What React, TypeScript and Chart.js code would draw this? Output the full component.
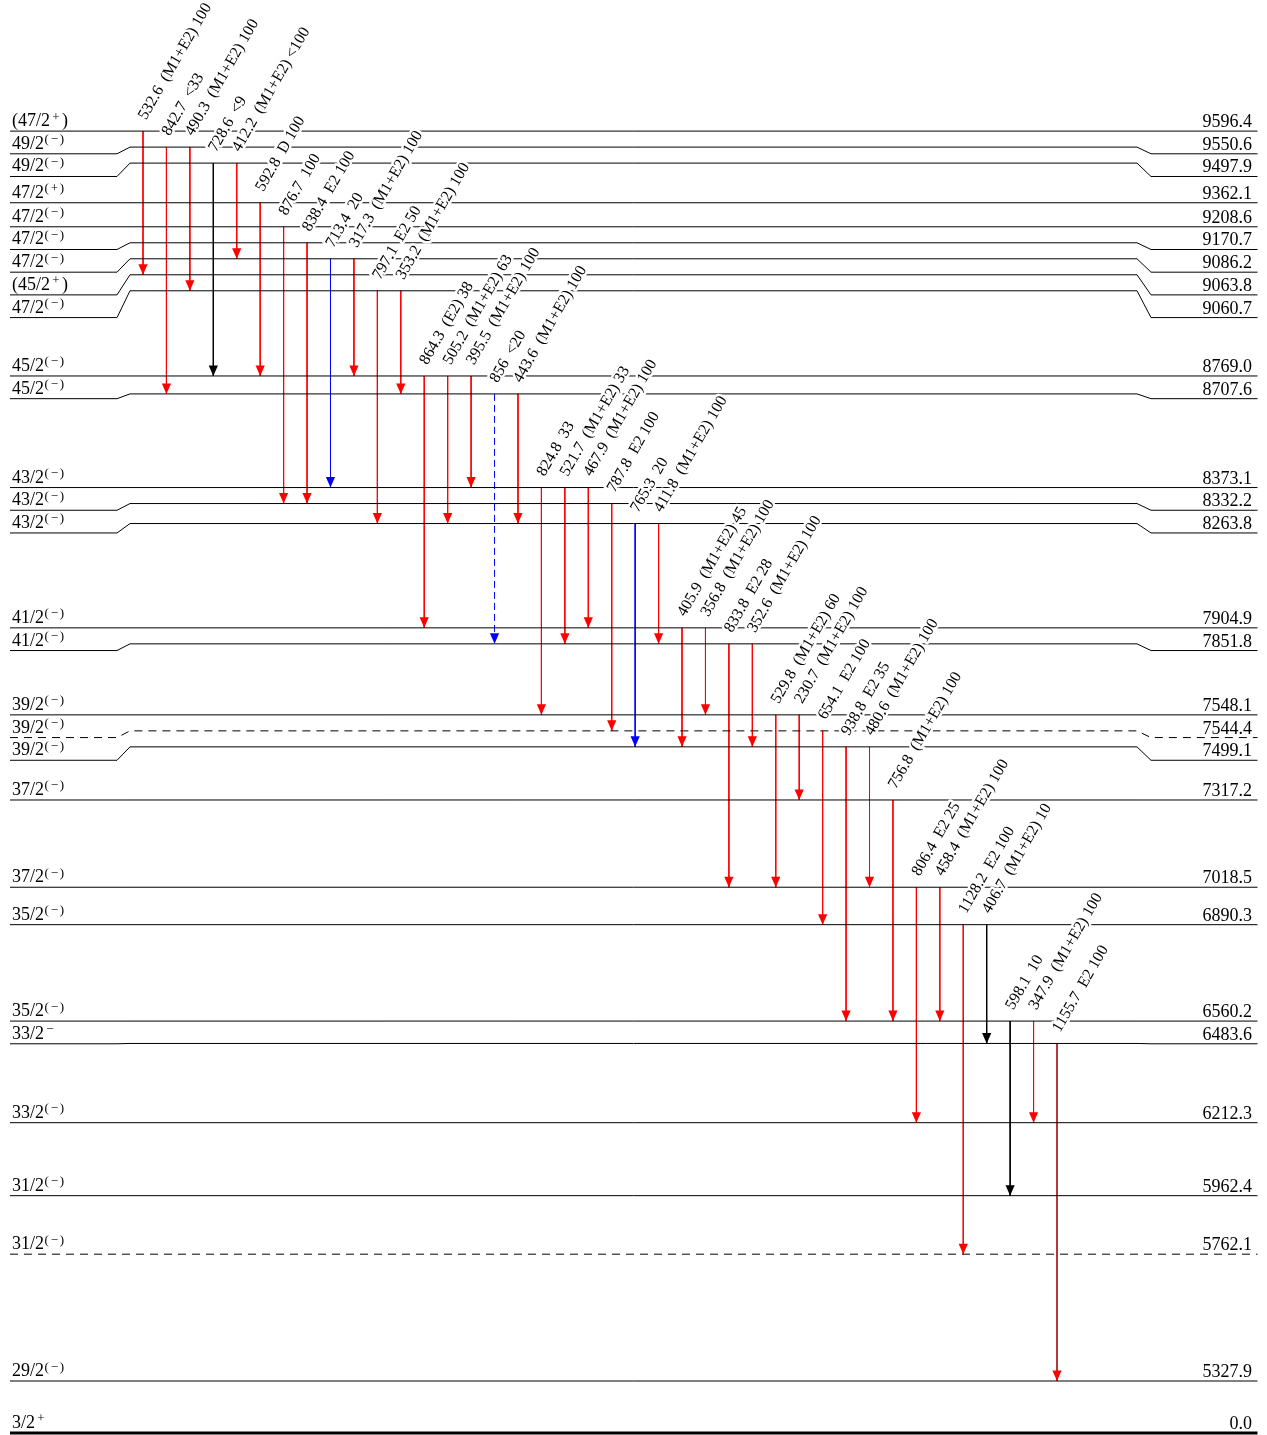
import React, { useEffect, useRef } from "react";
import { Chart, registerables } from "chart.js";

Chart.register(...registerables);

// ---------------- DATA ----------------
// Excited levels (keV), top to bottom
const levelEnergies = [
  9596.4, 9550.6, 9497.9, 9362.1, 9208.6, 9170.7, 9086.2, 9063.8, 9060.7,
  8769.0, 8707.6, 8373.1, 8332.2, 8263.8, 7904.9, 7851.8, 7548.1, 7544.4,
  7499.1, 7317.2, 7018.5, 6890.3, 6560.2, 6483.6, 6212.3, 5962.4, 5762.1,
  5327.9, 0.0,
];
// Spin/parity labels, superscript part in braces
const levelSpins = [
  "(47/2{+})", "49/2{(−)}", "49/2{(−)}", "47/2{(+)}", "47/2{(−)}", "47/2{(−)}",
  "47/2{(−)}", "(45/2{+})", "47/2{(−)}", "45/2{(−)}", "45/2{(−)}", "43/2{(−)}",
  "43/2{(−)}", "43/2{(−)}", "41/2{(−)}", "41/2{(−)}", "39/2{(−)}", "39/2{(−)}",
  "39/2{(−)}", "37/2{(−)}", "37/2{(−)}", "35/2{(−)}", "35/2{(−)}", "33/2{−}",
  "33/2{(−)}", "31/2{(−)}", "31/2{(−)}", "29/2{(−)}", "3/2{+}",
];
const dashedLevels = [7544.4, 5762.1];

// Gamma transitions, left to right
const gammaEnergies = [
  532.6, 842.7, 490.3, 728.6, 412.2, 592.8, 876.7, 838.4, 713.4, 317.3,
  797.1, 353.2, 864.3, 505.2, 395.5, 856, 443.6, 824.8, 521.7, 467.9,
  787.8, 765.3, 411.8, 405.9, 356.8, 833.8, 352.6, 529.8, 230.7, 654.1,
  938.8, 480.6, 756.8, 806.4, 458.4, 1128.2, 406.7, 598.1, 347.9, 1155.7,
];
const gammaFrom = [
  9596.4, 9550.6, 9550.6, 9497.9, 9497.9, 9362.1, 9208.6, 9170.7, 9086.2, 9086.2,
  9060.7, 9060.7, 8769.0, 8769.0, 8769.0, 8707.6, 8707.6, 8373.1, 8373.1, 8373.1,
  8332.2, 8263.8, 8263.8, 7904.9, 7904.9, 7851.8, 7851.8, 7548.1, 7548.1, 7544.4,
  7499.1, 7499.1, 7317.2, 7018.5, 7018.5, 6890.3, 6890.3, 6560.2, 6560.2, 6483.6,
];
const gammaTo = [
  9063.8, 8707.6, 9060.7, 8769.0, 9086.2, 8769.0, 8332.2, 8332.2, 8373.1, 8769.0,
  8263.8, 8707.6, 7904.9, 8263.8, 8373.1, 7851.8, 8263.8, 7548.1, 7851.8, 7904.9,
  7544.4, 7499.1, 7851.8, 7499.1, 7548.1, 7018.5, 7499.1, 7018.5, 7317.2, 6890.3,
  6560.2, 7018.5, 6560.2, 6212.3, 6560.2, 5762.1, 6483.6, 5962.4, 6212.3, 5327.9,
];
const gammaMult = [
  "(M1+E2)", "", "(M1+E2)", "", "(M1+E2)", "D", "", "E2", "", "(M1+E2)",
  "E2", "(M1+E2)", "(E2)", "(M1+E2)", "(M1+E2)", "", "(M1+E2)", "", "(M1+E2)", "(M1+E2)",
  "E2", "", "(M1+E2)", "(M1+E2)", "(M1+E2)", "E2", "(M1+E2)", "(M1+E2)", "(M1+E2)", "E2",
  "E2", "(M1+E2)", "(M1+E2)", "E2", "(M1+E2)", "E2", "(M1+E2)", "", "(M1+E2)", "E2",
];
const gammaIntensity = [
  "100", "<33", "100", "<9", "<100", "100", "100", "100", "20", "100",
  "50", "100", "38", "63", "100", "<20", "100", "33", "33", "100",
  "100", "20", "100", "45", "100", "28", "100", "60", "100", "100",
  "35", "100", "100", "25", "100", "100", "10", "10", "100", "100",
];
const gammaColors = [
  "#ff0000", "#ff0000", "#ff0000", "#000000", "#ff0000", "#ff0000", "#ff0000", "#ff0000", "#0000ff", "#ff0000",
  "#ff0000", "#ff0000", "#ff0000", "#ff0000", "#ff0000", "#0000ff", "#ff0000", "#ff0000", "#ff0000", "#ff0000",
  "#ff0000", "#0000ff", "#ff0000", "#ff0000", "#ff0000", "#ff0000", "#ff0000", "#ff0000", "#ff0000", "#ff0000",
  "#ff0000", "#ff0000", "#ff0000", "#ff0000", "#ff0000", "#ff0000", "#000000", "#000000", "#ff0000", "#b01818",
];
const dashedGammas = [856];

// ---------------- LAYOUT CONSTANTS ----------------
const W = 1267;
const H = 1435;
const PX_PER_KEV = 0.292063;
const MIN_LEVEL_GAP = 16 / PX_PER_KEV; // minimum spacing of level lines
const MIN_LABEL_GAP = 22.7 / PX_PER_KEV; // minimum spacing of level labels
const GROUND_BREAK = 178; // broken axis below lowest excited level
const Y_MAX = 5327.9 + 1381 / PX_PER_KEV;
const Y_MIN = Y_MAX - H / PX_PER_KEV;
const SLOT_PX = 23.436;
const X_MIN = -143 / SLOT_PX;
const X_MAX = X_MIN + W / SLOT_PX;
const toSlot = (px: number) => (px - 143) / SLOT_PX;
const LEVEL_X = [toSlot(10), toSlot(117), toSlot(130), toSlot(1137), toSlot(1151), toSlot(1257.5)];
const ANGLE = (60 * Math.PI) / 180;
const BASE_FONT = '18px "Liberation Serif"';
const SUP_FONT = '13px "Liberation Serif"';
const GAMMA_FONT = '16px "Liberation Serif"';

function layoutLevels() {
  const n = levelEnergies.length;
  const plotE: number[] = new Array(n);
  plotE[n - 2] = levelEnergies[n - 2];
  plotE[n - 1] = plotE[n - 2] - GROUND_BREAK;
  for (let i = n - 3; i >= 0; i--) {
    plotE[i] = Math.max(levelEnergies[i], plotE[i + 1] + MIN_LEVEL_GAP);
  }
  const labelE: number[] = new Array(n);
  labelE[0] = plotE[0];
  for (let i = 1; i < n; i++) {
    labelE[i] = Math.min(plotE[i], labelE[i - 1] - MIN_LABEL_GAP);
  }
  return { plotE, labelE };
}

function gammaLabel(i: number) {
  const e = String(gammaEnergies[i]);
  const rest = [gammaMult[i], gammaIntensity[i]].filter((s) => s).join(" ");
  return e + "\u00a0\u00a0" + rest;
}

function drawSpin(ctx: CanvasRenderingContext2D, label: string, x: number, y: number) {
  const m = label.match(/^(.*?)\{(.*?)\}(.*)$/);
  const pre = m ? m[1] : label;
  const sup = m ? m[2] : "";
  const post = m ? m[3] : "";
  ctx.font = BASE_FONT;
  ctx.fillText(pre, x, y);
  let cx = x + ctx.measureText(pre).width + 0.5;
  ctx.font = SUP_FONT;
  for (const ch of sup) {
    const sign = ch === "+" || ch === "−";
    if (sign) cx += 1.8;
    ctx.fillText(ch, cx, y - 5.5);
    cx += ctx.measureText(ch).width;
    if (sign) cx += 1.8;
  }
  cx += 0.5;
  ctx.font = BASE_FONT;
  ctx.fillText(post, cx, y);
}

export default function App() {
  const ref = useRef<HTMLCanvasElement | null>(null);

  useEffect(() => {
    if (!ref.current) return;
    const { plotE, labelE } = layoutLevels();
    const idx = (e: number) => levelEnergies.indexOf(e);
    const n = levelEnergies.length;

    const datasets: any[] = [];
    levelEnergies.forEach((e, i) => {
      const ground = i === n - 1;
      const ys = ground
        ? [plotE[i], plotE[i]]
        : [labelE[i], labelE[i], plotE[i], plotE[i], labelE[i], labelE[i]];
      const xs = ground ? [LEVEL_X[0], LEVEL_X[5]] : LEVEL_X;
      datasets.push({
        data: xs.map((x, k) => ({ x, y: ys[k] })),
        borderColor: "#000",
        borderWidth: ground ? 3 : 1,
        borderDash: dashedLevels.includes(e) ? [8, 6] : [],
        pointRadius: 0,
        fill: false,
        tension: 0,
        clip: false,
      });
    });
    gammaEnergies.forEach((g, i) => {
      datasets.push({
        data: [
          { x: i, y: plotE[idx(gammaFrom[i])] },
          { x: i, y: plotE[idx(gammaTo[i])] },
        ],
        borderColor: gammaColors[i],
        borderWidth: 1,
        borderDash: dashedGammas.includes(g) ? [7, 4] : [],
        pointRadius: 0,
        fill: false,
        tension: 0,
        clip: false,
      });
    });

    const schemePlugin = {
      id: "levelScheme",
      afterDatasetsDraw(chart: any) {
        const ctx: CanvasRenderingContext2D = chart.ctx;
        const xs = chart.scales.x;
        const ys = chart.scales.y;
        ctx.save();
        // gamma labels
        gammaEnergies.forEach((_, i) => {
          const px = xs.getPixelForValue(i);
          const py = ys.getPixelForValue(plotE[idx(gammaFrom[i])]);
          ctx.save();
          ctx.translate(px + 3, py - 10.5);
          ctx.rotate(-ANGLE);
          ctx.font = GAMMA_FONT;
          ctx.textAlign = "left";
          ctx.textBaseline = "alphabetic";
          const t = gammaLabel(i);
          ctx.strokeStyle = "#ffffff";
          ctx.lineWidth = 5;
          ctx.lineJoin = "round";
          ctx.strokeText(t, 0, 0);
          ctx.fillStyle = "#000";
          ctx.fillText(t, 0, 0);
          ctx.restore();
        });
        // arrowheads
        gammaEnergies.forEach((_, i) => {
          const px = xs.getPixelForValue(i);
          const py = ys.getPixelForValue(plotE[idx(gammaTo[i])]);
          ctx.beginPath();
          ctx.moveTo(px, py);
          ctx.lineTo(px - 4.6, py - 10.5);
          ctx.lineTo(px + 4.6, py - 10.5);
          ctx.closePath();
          ctx.fillStyle = gammaColors[i] === "#b01818" ? "#ff0000" : gammaColors[i];
          ctx.fill();
        });
        // level labels
        ctx.fillStyle = "#000";
        ctx.textBaseline = "alphabetic";
        levelEnergies.forEach((e, i) => {
          const ly = ys.getPixelForValue(labelE[i]);
          ctx.textAlign = "left";
          drawSpin(ctx, levelSpins[i], 12, ly - 5);
          ctx.font = BASE_FONT;
          ctx.textAlign = "right";
          ctx.fillText(e.toFixed(1), 1252, ly - 4);
        });
        ctx.restore();
      },
    };

    const chart = new Chart(ref.current, {
      type: "line",
      data: { datasets },
      options: {
        animation: false,
        responsive: false,
        maintainAspectRatio: false,
        events: [],
        layout: { padding: 0, autoPadding: false },
        plugins: {
          legend: { display: false },
          tooltip: { enabled: false },
          title: { display: false },
        },
        scales: {
          x: { type: "linear", display: false, min: X_MIN, max: X_MAX },
          y: { type: "linear", display: false, min: Y_MIN, max: Y_MAX },
        },
      },
      plugins: [schemePlugin],
    } as any);
    return () => chart.destroy();
  }, []);

  return (
    <div style={{ position: "absolute", left: 0, top: 0, width: W, height: H, background: "#fff" }}>
      <canvas ref={ref} width={W} height={H} style={{ display: "block", width: W, height: H }} />
    </div>
  );
}
